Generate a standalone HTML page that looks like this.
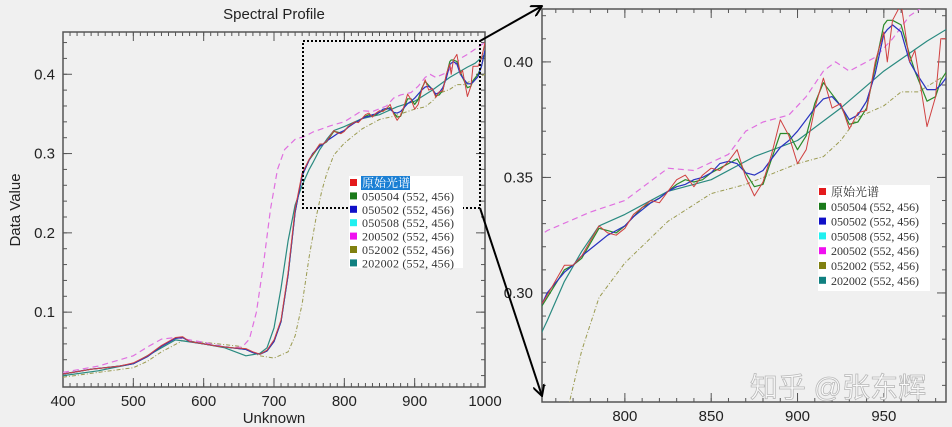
<!DOCTYPE html>
<html><head><meta charset="utf-8"><style>
html,body{margin:0;padding:0;background:#f0f0f0;width:952px;height:427px;overflow:hidden;}
svg{display:block;font-family:"Liberation Sans","Noto Sans CJK SC",sans-serif;}
.lg{font-family:"Liberation Serif","Noto Serif CJK SC",serif;font-size:12px;fill:#333;}
</style></head><body>
<svg id="s" width="952" height="427" viewBox="0 0 952 427">
<defs>
<clipPath id="c1"><rect x="63" y="32" width="422" height="355"/></clipPath>
<clipPath id="c2"><rect x="542" y="9" width="404" height="393"/></clipPath>
<marker id="ah" markerWidth="12" markerHeight="12" refX="11" refY="6" orient="auto" markerUnits="userSpaceOnUse"><path d="M0,0 L11,6 L0,12" fill="none" stroke="#000" stroke-width="2"/></marker>
</defs>
<rect width="952" height="427" fill="#f0f0f0"/>
<g id="left"></g>
<g id="right"></g>
<text x="274" y="19" text-anchor="middle" font-size="15" fill="#222">Spectral Profile</text>
<text x="274" y="423" text-anchor="middle" font-size="15" fill="#222">Unknown</text>
<text transform="translate(20,210) rotate(-90)" text-anchor="middle" font-size="15" fill="#222">Data Value</text>
<rect x="303" y="41" width="177" height="167" fill="none" stroke="#000" stroke-width="2" stroke-dasharray="2,2"/>
<line x1="480" y1="41" x2="542" y2="6" stroke="#000" stroke-width="2" marker-end="url(#ah)"/>
<line x1="480" y1="208" x2="542" y2="396" stroke="#000" stroke-width="2" marker-end="url(#ah)"/>
<g>
<rect x="349" y="176" width="114" height="92" fill="#fff"/>
<rect x="361" y="176" width="49" height="14" fill="#1a7fd4"/>
<g id="lg1"></g>
</g>
<g>
<rect x="818" y="185" width="112" height="106" fill="#fff"/>
<g id="lg2"></g>
</g>
<text x="838" y="397" text-anchor="middle" font-size="28" fill="#fafafa" stroke="#b8b8b8" stroke-width="0.8">知乎 @张东辉</text>
</svg>
<script>
const redX=[400,420,440,460,480,500,520,540,560,570,580,600,620,640,660,670,680,690,700,710,720,730,740,750,755,765,770,775,785,790,795,800,805,810,815,820,825,830,835,840,845,850,855,860,865,870,875,880,885,890,895,900,905,910,915,920,925,930,935,940,945,950,952,955,960,965,968,975,980,983,990,995,1000];
const redY=[.022,.025,.028,.030,.032,.036,.045,.058,.068,.069,.063,.060,.057,.055,.054,.050,.047,.052,.065,.09,.15,.23,.275,.293,.299,.312,.312,.316,.329,.326,.325,.328,.334,.337,.340,.339,.344,.349,.351,.346,.351,.354,.353,.357,.362,.350,.342,.348,.360,.375,.368,.356,.362,.380,.393,.380,.382,.371,.378,.379,.400,.413,.400,.418,.425,.400,.405,.372,.385,.410,.410,.420,.440];
const greenY=[.022,.025,.028,.030,.032,.035,.044,.057,.067,.068,.063,.060,.057,.055,.053,.049,.047,.051,.063,.088,.147,.226,.272,.292,.298,.310,.312,.315,.328,.327,.326,.329,.333,.337,.339,.341,.344,.347,.349,.348,.349,.352,.354,.356,.358,.352,.346,.347,.358,.369,.369,.362,.368,.382,.391,.386,.381,.373,.374,.380,.398,.416,.418,.418,.416,.403,.396,.383,.385,.392,.400,.410,.430];
const blueY=[.022,.025,.028,.030,.032,.035,.044,.057,.067,.068,.063,.060,.057,.055,.053,.049,.047,.051,.063,.088,.147,.226,.272,.292,.300,.309,.312,.316,.322,.325,.327,.329,.333,.336,.339,.341,.344,.346,.347,.349,.350,.352,.356,.357,.356,.352,.351,.353,.358,.363,.366,.370,.375,.380,.384,.385,.381,.375,.377,.383,.395,.412,.414,.416,.413,.400,.396,.388,.388,.390,.397,.410,.430];
const cyanY=[.022,.025,.028,.030,.032,.035,.044,.057,.067,.068,.063,.060,.057,.055,.053,.049,.047,.051,.063,.088,.147,.226,.272,.292,.300,.309,.312,.316,.322,.325,.327,.329,.333,.336,.339,.341,.344,.346,.347,.349,.350,.352,.356,.357,.356,.352,.351,.353,.358,.363,.366,.370,.375,.380,.384,.385,.381,.375,.377,.383,.395,.412,.414,.416,.413,.400,.396,.388,.388,.390,.397,.410,.430];
const magX=[400,450,500,520,540,560,580,600,620,640,655,665,675,685,695,705,715,730,745,755,780,800,825,840,860,870,880,895,905,915,922,930,945,955,965,975,1000];
const magY=[.024,.032,.045,.056,.066,.068,.065,.062,.058,.055,.056,.066,.10,.16,.23,.28,.305,.318,.322,.327,.335,.34,.354,.353,.360,.370,.374,.377,.385,.396,.400,.396,.402,.410,.420,.425,.440];
const oliveX=[400,450,500,520,540,570,600,650,680,700,720,730,740,750,760,768,775,785,800,825,850,870,890,900,915,925,935,950,960,970,985,1000];
const oliveY=[.018,.024,.030,.038,.050,.064,.062,.057,.045,.042,.050,.07,.11,.17,.22,.253,.275,.298,.313,.331,.343,.347,.353,.356,.359,.366,.376,.381,.387,.387,.394,.400];
const tealX=[400,450,500,530,560,600,630,660,680,690,700,710,720,730,740,750,755,765,775,785,800,825,850,875,900,925,950,975,986,1000];
const tealY=[.020,.026,.035,.050,.065,.060,.055,.045,.048,.055,.080,.130,.190,.235,.260,.280,.288,.305,.318,.329,.334,.344,.349,.359,.366,.380,.396,.409,.414,.425];
const legendNames=["原始光谱","050504 (552, 456)","050502 (552, 456)","050508 (552, 456)","200502 (552, 456)","052002 (552, 456)","202002 (552, 456)"];
const legendColors=["#e41a1c","#1a7a1a","#1010c8","#20f0f0","#f010f0","#808010","#108080"];
const leftXTicks=[400,500,600,700,800,900,1000];
const leftYTicks=[0.1,0.2,0.3,0.4];
const rightXTicks=[800,850,900,950];
const rightYTicks=[0.30,0.35,0.40];

const NS="http://www.w3.org/2000/svg";
function mk(tag,attrs,parent){const e=document.createElementNS(NS,tag);for(const k in attrs)e.setAttribute(k,attrs[k]);parent.appendChild(e);return e;}

function drawChart(g,cfg){
  const sx=v=>cfg.x0+(v-cfg.xmin)/(cfg.xmax-cfg.xmin)*(cfg.x1-cfg.x0);
  const sy=v=>cfg.y1-(v-cfg.ymin)/(cfg.ymax-cfg.ymin)*(cfg.y1-cfg.y0);
  const frame=mk('rect',{x:cfg.x0,y:cfg.y0,width:cfg.x1-cfg.x0,height:cfg.y1-cfg.y0,fill:'none',stroke:'#555','stroke-width':1.5},g);
  
  
  for(let v=Math.ceil(cfg.xmin/cfg.xminor)*cfg.xminor;v<=cfg.xmax;v+=cfg.xminor){const p=sx(v);
    mk('line',{x1:p,x2:p,y1:cfg.y1,y2:cfg.y1-4,stroke:'#555'},g);mk('line',{x1:p,x2:p,y1:cfg.y0,y2:cfg.y0+4,stroke:'#555'},g);}
  for(let v=Math.ceil(cfg.ymin/cfg.yminor-1e-9)*cfg.yminor;v<=cfg.ymax+1e-9;v+=cfg.yminor){const p=sy(v);
    mk('line',{x1:cfg.x0,x2:cfg.x0+4,y1:p,y2:p,stroke:'#555'},g);mk('line',{x1:cfg.x1,x2:cfg.x1-4,y1:p,y2:p,stroke:'#555'},g);}
  cfg.xt.forEach(v=>{const p=sx(v);
    mk('line',{x1:p,x2:p,y1:cfg.y1,y2:cfg.y1-9,stroke:'#555'},g);mk('line',{x1:p,x2:p,y1:cfg.y0,y2:cfg.y0+9,stroke:'#555'},g);
    const t=mk('text',{x:p,y:cfg.y1+cfg.xlOff,'text-anchor':'middle','font-size':15,fill:'#222'},g);t.textContent=v;
    
    });
  cfg.yt.forEach(v=>{const p=sy(v);
    mk('line',{x1:cfg.x0,x2:cfg.x0+9,y1:p,y2:p,stroke:'#555'},g);mk('line',{x1:cfg.x1,x2:cfg.x1-9,y1:p,y2:p,stroke:'#555'},g);
    const t=mk('text',{x:cfg.x0-cfg.ylOff,y:p+5,'text-anchor':'end','font-size':15,fill:'#222'},g);t.textContent=v.toFixed(cfg.ydec);
    
    });
  const series=[
    [oliveX,oliveY,'#9a9a50','4,2,1,2',1,'series-052002'],
    [magX,magY,'#e070e0','6,4',1.2,'series-200502'],
    [tealX,tealY,'#2a8a80','',1.2,'series-202002'],
    [redX,cyanY,'#30d0e0','',1,'series-050508'],
    [redX,greenY,'#2a8a2a','',1.2,'series-050504'],
    [redX,blueY,'#3030c0','',1.2,'series-050502'],
    [redX,redY,'#d04040','',1,'series-original']];
  const cg=mk('g',{'clip-path':cfg.clip},g);
  series.forEach(s=>{
    const d=s[0].map((x,i)=>(i?'L':'M')+sx(x).toFixed(1)+','+sy(s[1][i]).toFixed(1)).join(' ');
    const p=mk('path',{d:d,fill:'none',stroke:s[2],'stroke-width':s[4],'stroke-dasharray':s[3]||'none','stroke-linejoin':'round'},cg);
    
    
  });
}
drawChart(document.getElementById('left'),{x0:63,x1:485,y0:32,y1:387,xmin:400,xmax:1000,ymin:0.0056,ymax:0.4533,xt:leftXTicks,yt:leftYTicks,xminor:10,yminor:0.02,xlOff:19,ylOff:8,ydec:1,clip:'url(#c1)'});
drawChart(document.getElementById('right'),{x0:542,x1:946,y0:9,y1:402,xmin:752,xmax:986,ymin:0.2528,ymax:0.4229,xt:rightXTicks,yt:rightYTicks,xminor:10,yminor:0.01,xlOff:19,ylOff:9,ydec:2,clip:'url(#c2)'});

function legend(id,x,y0,dy,w){
  const g=document.getElementById(id);
  legendNames.forEach((n,i)=>{const y=y0+i*dy;
    const r=mk('rect',{x:x,y:y-4,width:7,height:7,fill:legendColors[i]},g);
    
    
    const t=mk('text',{x:x+12,y:y+4,class:'lg'},g);
    if(i>0){t.setAttribute('textLength',w);t.setAttribute('lengthAdjust','spacing');}
    t.textContent=n;
    
    
    if(i===0&&id==='lg1')t.style.fill='#fff';});
}
legend('lg1',350,183,13.4,92);
legend('lg2',819,192,14.8,88);
</script>
</body></html>
